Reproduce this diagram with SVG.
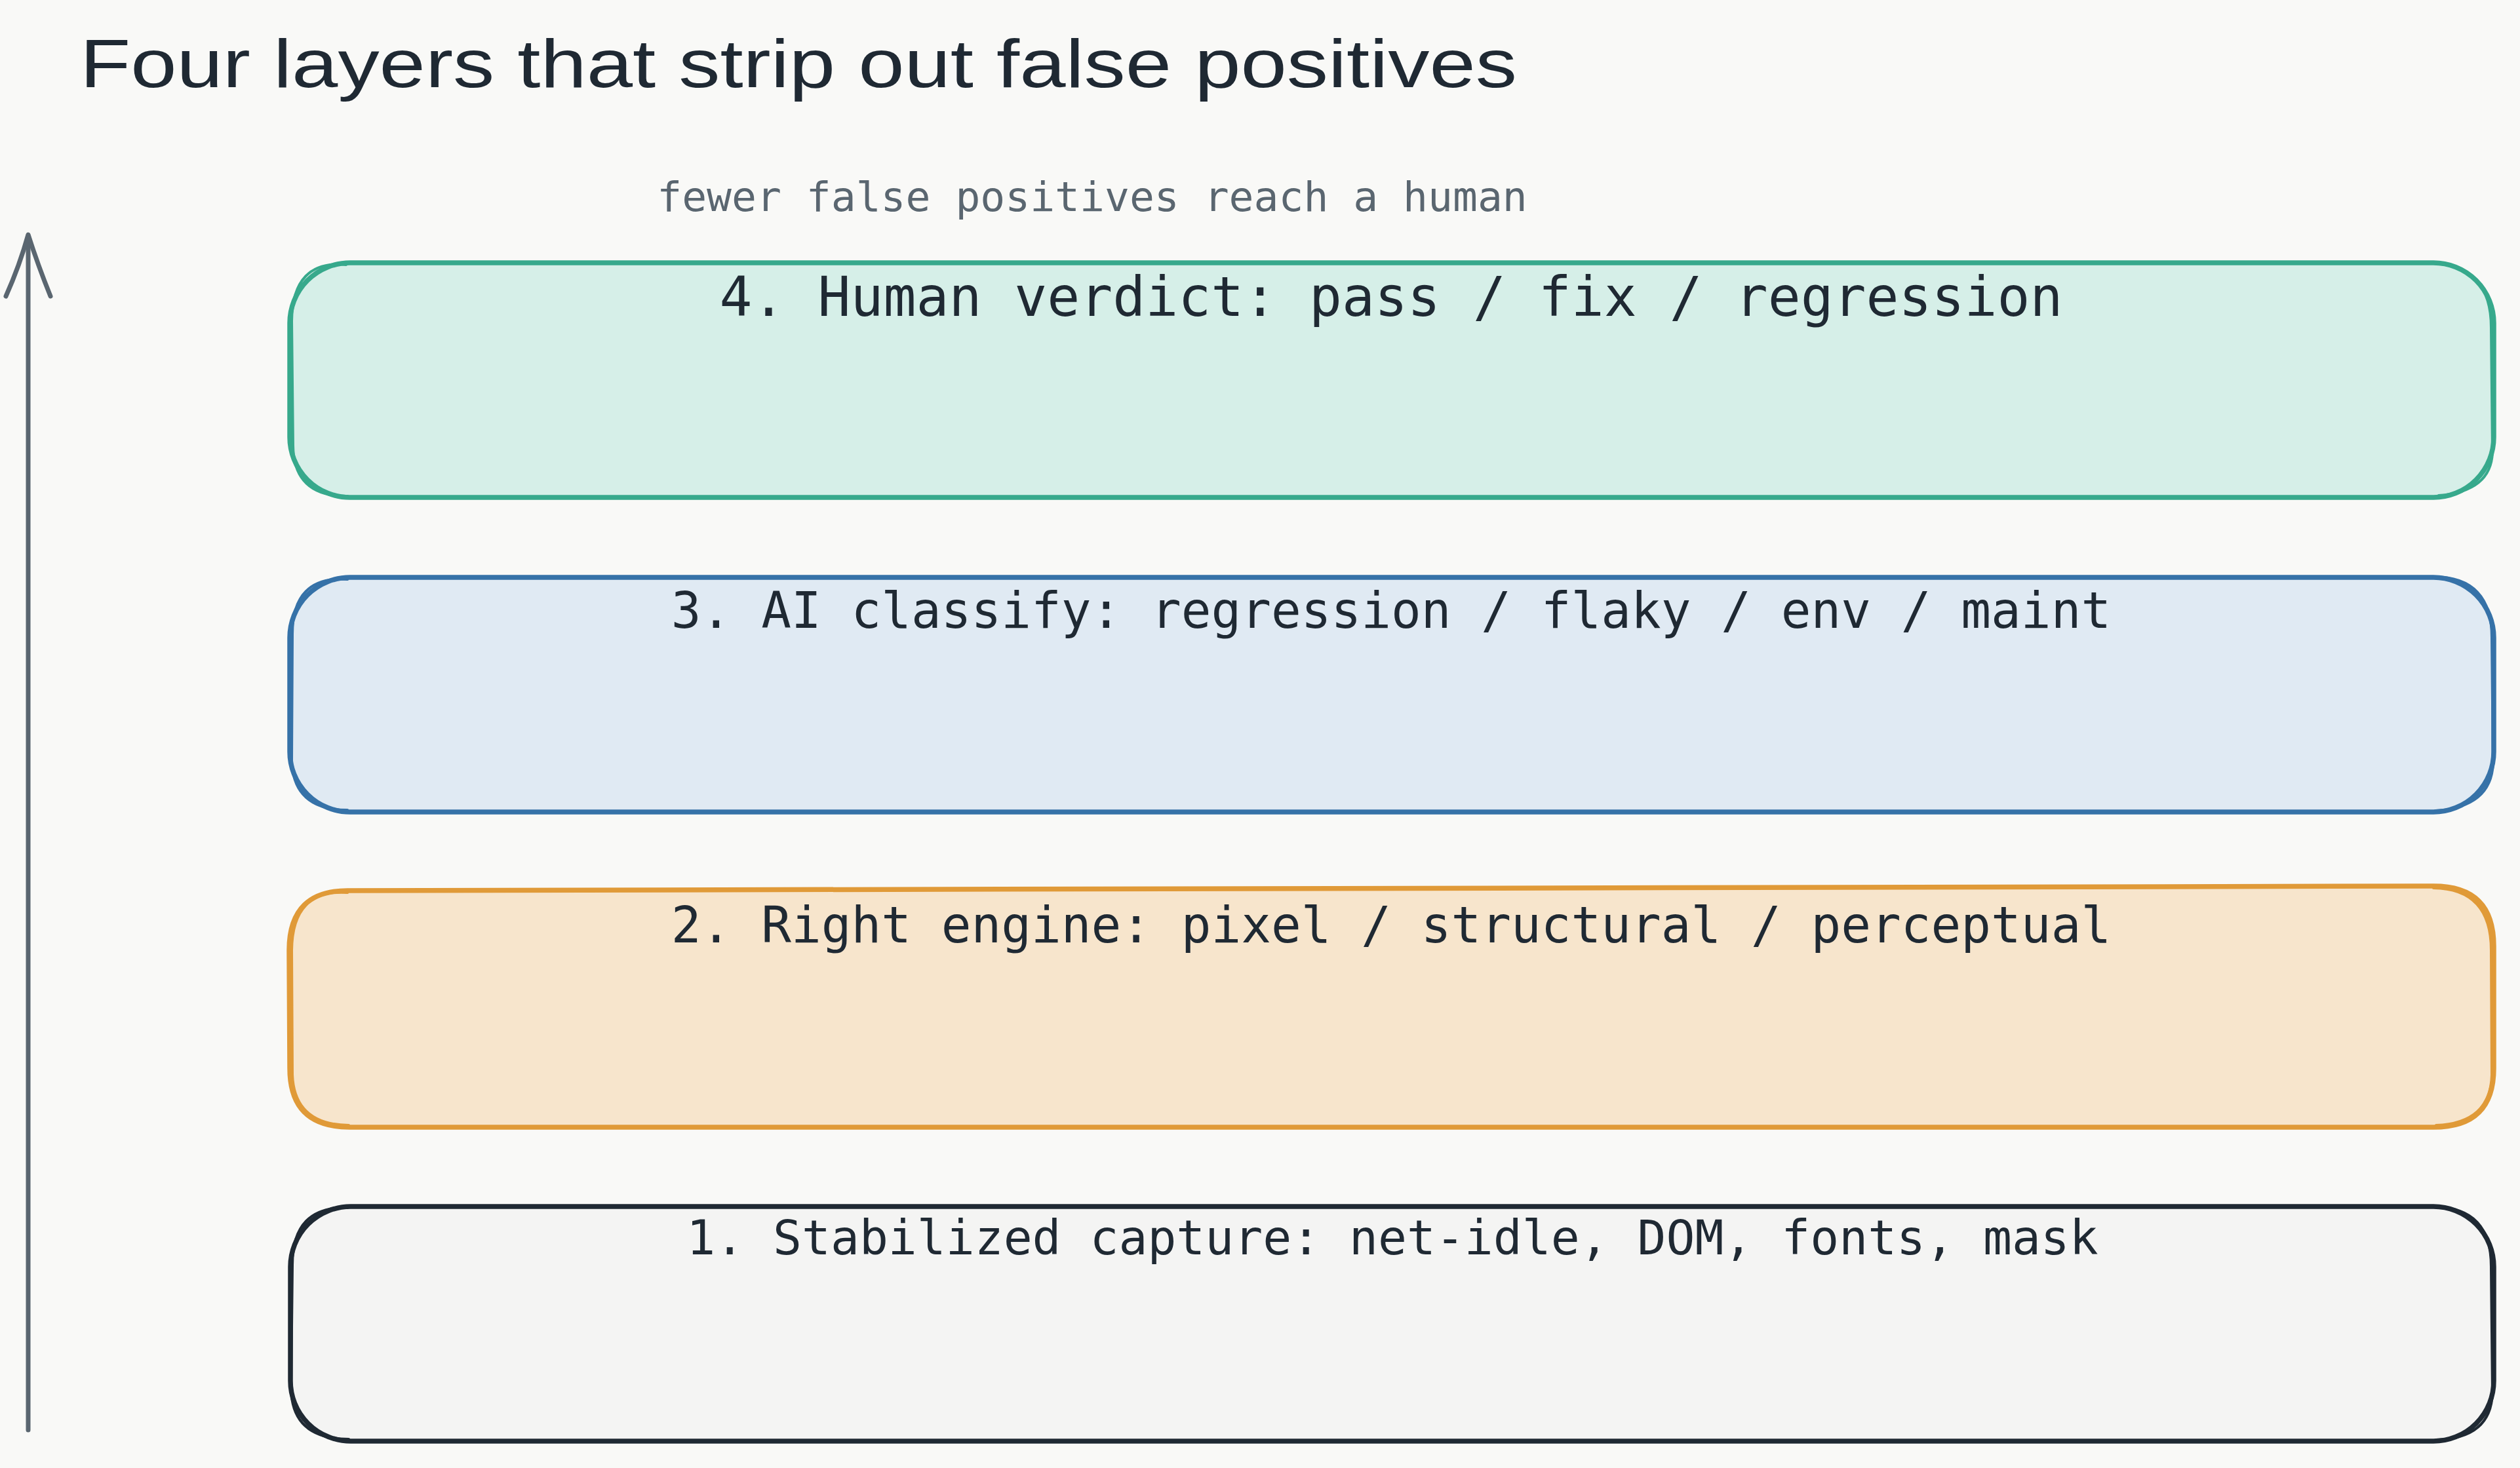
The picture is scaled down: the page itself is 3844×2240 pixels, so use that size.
<svg xmlns="http://www.w3.org/2000/svg" width="3844" height="2240" viewBox="0 0 3844 2240">
<defs>
<style>
.bg{fill:#f9f9f7}
.title{font-family:"Liberation Sans","DejaVu Sans",sans-serif;font-size:104px;fill:#1f2933}
.sub{font-family:"DejaVu Sans Mono","Liberation Mono",monospace;font-size:63px;fill:#5a6670;text-anchor:middle}
.lbl{font-family:"DejaVu Sans Mono","Liberation Mono",monospace;fill:#1f2933;text-anchor:middle}
.box{stroke-width:7.5;stroke-linejoin:round;stroke-linecap:round}
.sk{fill:none;stroke-width:4;stroke-linecap:round}
.conn{fill:none;stroke:#5a6670;stroke-width:7;stroke-linecap:round;stroke-linejoin:round}
</style>
</defs>
<rect class="bg" x="0" y="0" width="3844" height="2240"/>
<text id="title" class="title" x="122" y="133" textLength="2192" lengthAdjust="spacingAndGlyphs">Four layers that strip out false positives</text>
<text id="axis-label" class="sub" x="1666" y="322">fewer false positives reach a human</text>

<g id="connectors">
<path class="conn" d="M43 2182 L43 360"/>
<path class="conn" d="M9 452 Q30 405 43 358 Q58 405 77 452"/>
</g>

<g id="layer4">
<rect class="box" x="442" y="401" width="3362" height="358" rx="92" fill="#d6efe8" stroke="#37a98c"/>
<path class="sk" stroke="#37a98c" d="M528 404 Q446 396 445 490 L447 680 Q448 758 530 757 M3710 402 Q3800 404 3800 500 L3802 690 Q3800 750 3720 756"/>
<text class="lbl" x="2122" y="482" font-size="83">4. Human verdict: pass / fix / regression</text>
</g>

<g id="layer3">
<rect class="box" x="442" y="881" width="3362" height="358" rx="92" fill="#e0eaf3" stroke="#3672a8"/>
<path class="sk" stroke="#3672a8" d="M530 884 Q445 878 446 970 L445 1160 Q447 1236 530 1236 M3712 880 Q3802 880 3801 975 L3803 1165 Q3800 1232 3715 1237"/>
<text class="lbl" x="2122" y="958" font-size="76">3. AI classify: regression / flaky / env / maint</text>
</g>

<g id="layer2">
<path class="box" fill="#f7e5cc" stroke="#e09a38" d="M534 1359 L3712 1352 Q3804 1352 3804 1444 L3804 1630 Q3804 1720 3712 1720 L534 1720 Q442 1720 442 1630 L441 1450 Q441 1357 534 1359 Z"/>
<path class="sk" stroke="#e09a38" d="M530 1362 Q446 1356 445 1450 L446 1640 Q449 1716 532 1717 M3712 1355 Q3800 1356 3800 1450 L3801 1640 Q3799 1714 3716 1717"/>
<text class="lbl" x="2122" y="1438" font-size="76">2. Right engine: pixel / structural / perceptual</text>
</g>

<g id="layer1">
<rect class="box" x="443" y="1841" width="3361" height="358" rx="92" fill="#f4f4f3" stroke="#1f2933"/>
<path class="sk" stroke="#1f2933" d="M530 1843 Q446 1840 446 1930 L444 2120 Q446 2196 532 2196 M3714 1842 Q3801 1842 3800 1935 L3802 2125 Q3800 2195 3716 2197"/>
<text class="lbl" x="2124" y="1914" font-size="73">1. Stabilized capture: net-idle, DOM, fonts, mask</text>
</g>
</svg>
